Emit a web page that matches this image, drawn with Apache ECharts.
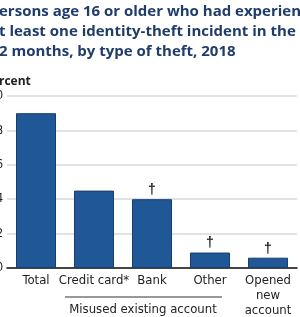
<!DOCTYPE html>
<html><head><meta charset="utf-8">
<script src="https://cdn.jsdelivr.net/npm/echarts@6/dist/echarts.min.js"></script>
<style>html,body{margin:0;padding:0;background:#fff;}#c{width:300px;height:317px;}</style>
</head><body><div id="c"></div>
<script>
const categories = ['Total', 'Credit card*', 'Bank', 'Other', 'Opened\nnew\naccount'];
const values = [9.0, 4.5, 4.0, 0.9, 0.6];
const notes = ['', '', '†', '†', '†'];
const yTicks = [0, 2, 4, 6, 8, 10];
const titleLines = ['ersons age 16 or older who had experienced', 't least one identity-theft incident in the', '2 months, by type of theft, 2018'];
const yAxisName = 'rcent';
const groupLabel = 'Misused existing account';

const chart = echarts.init(document.getElementById('c'), null, {renderer: 'canvas'});
const font = '"Liberation Sans Narrow","DejaVu Sans Condensed","Open Sans",sans-serif';
chart.setOption({
  animation: false,
  grid: {left: 7, right: 3, top: 96, bottom: 49, containLabel: false, outerBoundsMode: 'none'},
  xAxis: {
    type: 'category', data: categories,
    axisLine: {lineStyle: {color: '#111', width: 1.5}},
    axisTick: {show: false},
    axisLabel: {color: '#222', fontFamily: font, fontSize: 13, lineHeight: 15, margin: 5, interval: 0, verticalAlign: 'top'}
  },
  yAxis: {
    type: 'value', min: yTicks[0], max: yTicks[yTicks.length - 1], interval: yTicks[1] - yTicks[0],
    axisLabel: {color: '#222', fontFamily: font, fontSize: 12, margin: 4},
    splitLine: {lineStyle: {color: '#d9d9d9', width: 1.5}},
    axisLine: {show: false}, axisTick: {show: false}
  },
  series: [{
    type: 'bar', data: values, barWidth: 40,
    itemStyle: {color: '#1f5797', borderColor: '#173f70', borderWidth: 1},
    label: {show: true, position: 'top', distance: 2, color: '#222', fontSize: 14, fontWeight: 'bold',
      formatter: p => notes[p.dataIndex]}
  }],
  graphic: [
    {type: 'text', left: -1, top: 2, style: {text: titleLines.join('\n'), fill: '#1f3c6b', font: 'bold 15px "Open Sans",sans-serif', lineHeight: 20}},
    {type: 'text', left: -1, top: 76, style: {text: yAxisName, fill: '#222', font: 'bold 12px "Open Sans",sans-serif'}},
    {type: 'line', shape: {x1: 65, y1: 297, x2: 222, y2: 297}, style: {stroke: '#333', lineWidth: 1}},
    {type: 'text', x: 143, y: 303, style: {text: groupLabel, fill: '#222', font: '13px ' + font, textAlign: 'center'}}
  ]
});
</script></body></html>
